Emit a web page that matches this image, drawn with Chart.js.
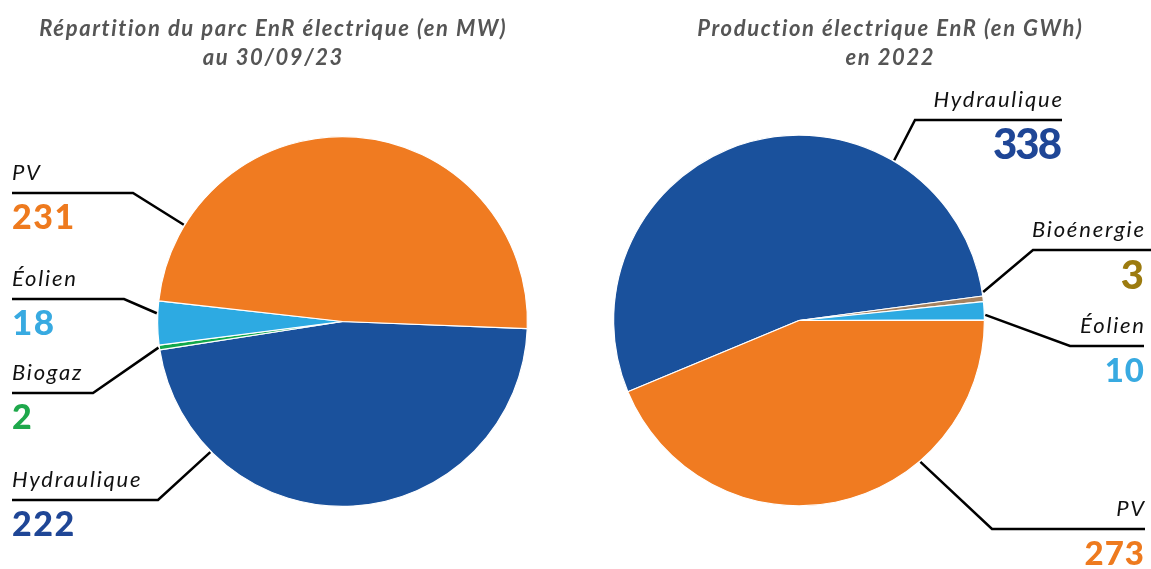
<!DOCTYPE html>
<html lang="fr">
<head>
<meta charset="utf-8">
<script src="https://cdn.jsdelivr.net/npm/chart.js@4/dist/chart.umd.min.js"></script>
<style>
  html, body { margin: 0; padding: 0; background: #ffffff; }
  #wrap { position: relative; width: 1151px; height: 569px; overflow: hidden; }
  canvas { position: absolute; left: 0; top: 0; }
</style>
</head>
<body>
<div id="wrap">
  <canvas id="c1" width="1151" height="569"></canvas>
  <canvas id="c2" width="1151" height="569"></canvas>
</div>
<script>
// ---- Data ----
const parcTitle = ['Répartition du parc EnR électrique (en MW)', 'au 30/09/23'];
const parcCategories = ['Hydraulique', 'Biogaz', 'Éolien', 'PV'];
const parcValues = [222, 2, 18, 231];

const prodTitle = ['Production électrique EnR (en GWh)', 'en 2022'];
const prodCategories = ['Hydraulique', 'Bioénergie', 'Éolien', 'PV'];
const prodValues = [338, 3, 10, 273];

// ---- Styles ----
const sliceColors = {
  'Hydraulique': '#1A519C', 'Biogaz': '#12A84B', 'Bioénergie': '#A6825F',
  'Éolien': '#2DAAE2', 'PV': '#F07B21'
};
const numberColors = {
  'Hydraulique': '#1F4696', 'Biogaz': '#1EA84B', 'Bioénergie': '#9C7B0F',
  'Éolien': '#38AAE1', 'PV': '#EE7A1E'
};
const FONT = 'Lato, "Open Sans", "DejaVu Sans", sans-serif';

// Label layouts (annotation positions; index matches category order)
const parcLabelLayout = [
  { frac: 0.788, elbowX: 158, lineY: 500, x0: 12, x1: 158, align: 'left', numSize: 34, numSp: 1.5 },
  { frac: 0.5,   elbowX: 93,  lineY: 393, x0: 12, x1: 93,  align: 'left', numSize: 34, numSp: 1.5 },
  { frac: 0.72,  elbowX: 124, lineY: 299, x0: 12, x1: 124, align: 'left', numSize: 35, numSp: 1.5 },
  { frac: 0.142, elbowX: 133, lineY: 193, x0: 12, x1: 133, align: 'left', numSize: 34, numSp: 1.5 }
];
const prodLabelLayout = [
  { frac: 0.735, elbowX: 915,  lineY: 120, x0: 915,  x1: 1062, align: 'right', textX: 1062, numSize: 42, numSp: -2 },
  { frac: -0.7,  elbowX: 1033, lineY: 250, x0: 1033, x1: 1151, align: 'right', textX: 1144, numSize: 40, numSp: 0 },
  { frac: 0.72,  elbowX: 1070, lineY: 346, x0: 1070, x1: 1144, align: 'right', textX: 1144, numSize: 33, numSp: 1 },
  { frac: 0.314, elbowX: 992,  lineY: 529, x0: 992,  x1: 1145, align: 'right', textX: 1144, numSize: 33, numSp: 1 }
];

function fillSpaced(ctx, text, x, y, sp) {
  ctx.letterSpacing = sp + 'px';
  // compensate trailing spacing for right/center alignment
  let dx = 0;
  if (ctx.textAlign === 'right') dx = sp;
  else if (ctx.textAlign === 'center') dx = sp / 2;
  ctx.fillText(text, x + dx, y);
  ctx.letterSpacing = '0px';
}

const labelPlugin = {
  id: 'leaderLabels',
  afterDatasetsDraw(chart, args, opts) {
    const ctx = chart.ctx;
    const meta = chart.getDatasetMeta(0);
    const cats = chart.data.labels;
    const values = chart.data.datasets[0].data;
    ctx.save();
    // Title
    ctx.fillStyle = '#555555';
    ctx.font = 'italic bold 22px ' + FONT;
    ctx.textAlign = 'center';
    ctx.textBaseline = 'alphabetic';
    opts.title.forEach((t, i) => fillSpaced(ctx, t, opts.titleX, 36 + i * 29, 1.6));
    // Leaders + labels
    meta.data.forEach((arc, i) => {
      const L = opts.layout[i];
      const p = arc.getProps(['x', 'y', 'startAngle', 'endAngle', 'outerRadius'], true);
      const a = p.startAngle + L.frac * (p.endAngle - p.startAngle);
      const sx = p.x + Math.cos(a) * (p.outerRadius + 1);
      const sy = p.y + Math.sin(a) * (p.outerRadius + 1);
      ctx.strokeStyle = '#000000';
      ctx.lineWidth = 2.5;
      ctx.lineJoin = 'miter';
      ctx.beginPath();
      ctx.moveTo(sx, sy);
      ctx.lineTo(L.elbowX, L.lineY);
      if (L.align === 'left') ctx.lineTo(L.x0, L.lineY);
      else ctx.lineTo(L.x1, L.lineY);
      ctx.stroke();
      const tx = L.align === 'left' ? L.x0 : L.textX;
      ctx.textAlign = L.align;
      ctx.fillStyle = '#111111';
      ctx.font = 'italic 22px ' + FONT;
      fillSpaced(ctx, cats[i], tx, L.lineY - 13, 1.8);
      ctx.fillStyle = numberColors[cats[i]];
      ctx.font = '900 ' + L.numSize + 'px ' + FONT;
      fillSpaced(ctx, String(values[i]), tx, L.lineY + 36 + (L.numSize > 36 ? 3 : 0), L.numSp);
    });
    ctx.restore();
  }
};

function makePie(id, cats, vals, rotation, padding, title, titleX, layout) {
  return new Chart(document.getElementById(id), {
    type: 'pie',
    data: {
      labels: cats,
      datasets: [{
        data: vals,
        backgroundColor: cats.map(c => sliceColors[c]),
        borderColor: '#ffffff',
        borderWidth: 1.2
      }]
    },
    options: {
      responsive: false,
      animation: false,
      rotation: rotation,
      layout: { padding: padding },
      plugins: {
        legend: { display: false },
        tooltip: { enabled: false },
        title: { display: false },
        leaderLabels: { title: title, titleX: titleX, layout: layout }
      }
    },
    plugins: [labelPlugin]
  });
}

makePie('c1', parcCategories, parcValues, 92.2,
  { left: 157, right: 623, top: 136, bottom: 62 }, parcTitle, 272.5, parcLabelLayout);
makePie('c2', prodCategories, prodValues, 247.4,
  { left: 613, right: 166, top: 134, bottom: 62 }, prodTitle, 889.5, prodLabelLayout);
</script>
</body>
</html>
